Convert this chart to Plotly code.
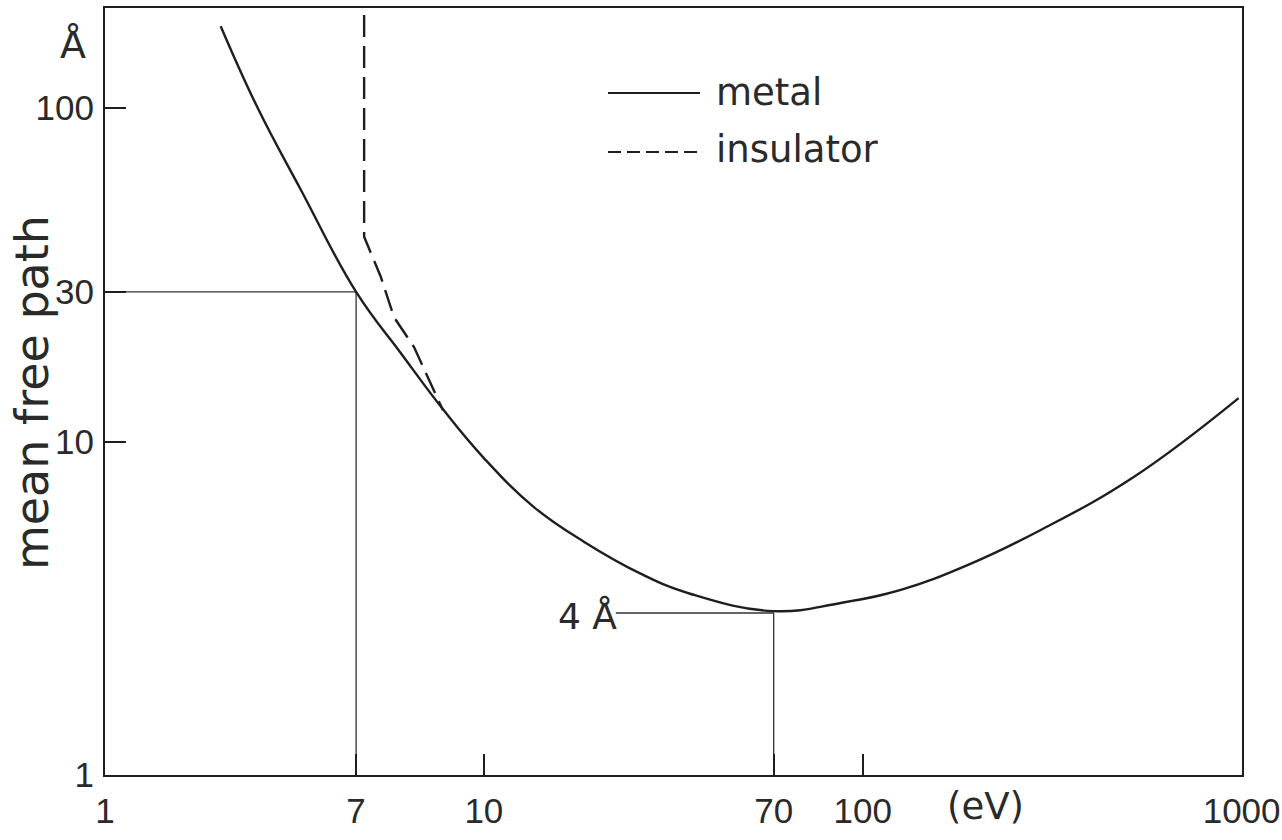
import plotly.graph_objects as go

# --- data (schematic log-log drawing) ---
metal_E = [2.02, 2.53, 3.29, 4.60, 6.04, 7.84, 10.0, 13.55, 18.4, 26.0, 35.2,
           58.2, 87.5, 126, 189, 295, 519, 982]
metal_L = [176, 100, 56.8, 28.1, 18.4, 12.4, 8.92, 6.36, 5.00, 4.01, 3.49,
           3.10, 3.28, 3.59, 4.26, 5.43, 7.83, 13.5]

insul_E = [4.83, 4.83, 5.35, 5.79, 6.54, 7.80]
insul_L = [190, 41.1, 31.1, 23.6, 19.2, 12.4]

ref30_E = [1, 4.60, 4.60]
ref30_L = [28.1, 28.1, 1]
ref4_E = [22.3, 58.2, 58.2]
ref4_L = [3.06, 3.06, 1]

x_tickvals = [1, 4.60, 10, 58.2, 100, 1000]
x_ticktext = ["1", "7", "10", "70", "100", "1000"]
y_tickvals = [1, 10, 28.1, 100]
y_ticktext = ["1", "10", "30", "100"]

INK = "#1e1e1e"
TXT = "#2a2a2a"
TICKFONT = dict(family="Liberation Sans, sans-serif", size=35, color=TXT)
TEXTFONT = dict(family="DejaVu Sans, sans-serif", size=37, color=TXT)

fig = go.Figure()
fig.add_trace(go.Scatter(x=ref30_E, y=ref30_L, mode="lines",
                         line=dict(color="#333", width=1.3), showlegend=False, hoverinfo="skip"))
fig.add_trace(go.Scatter(x=ref4_E, y=ref4_L, mode="lines",
                         line=dict(color="#333", width=1.3), showlegend=False, hoverinfo="skip"))
fig.add_trace(go.Scatter(x=insul_E, y=insul_L, mode="lines", name="insulator",
                         line=dict(color=INK, width=2.4, dash="22px,9px"),
                         showlegend=False))
fig.add_trace(go.Scatter(x=metal_E, y=metal_L, mode="lines", name="metal",
                         line=dict(color=INK, width=2.4, shape="spline", smoothing=1.2),
                         showlegend=False))

# hand-drawn style legend
fig.add_shape(type="line", xref="paper", yref="paper",
              x0=(608 - 105) / 1137, x1=(700 - 105) / 1137,
              y0=(775 - 93) / 767, y1=(775 - 93) / 767,
              line=dict(color=INK, width=2.2))
fig.add_shape(type="line", xref="paper", yref="paper",
              x0=(608 - 105) / 1137, x1=(703 - 105) / 1137,
              y0=(775 - 152) / 767, y1=(775 - 152) / 767,
              line=dict(color=INK, width=2.2, dash="13px,6px"))
fig.add_annotation(text="metal", xref="paper", yref="paper",
                   x=(714 - 105) / 1137, y=(775 - 93) / 767, xanchor="left", yanchor="middle",
                   showarrow=False, font=TEXTFONT)
fig.add_annotation(text="insulator", xref="paper", yref="paper",
                   x=(714 - 105) / 1137, y=(775 - 150) / 767, xanchor="left", yanchor="middle",
                   showarrow=False, font=TEXTFONT)

# axis annotations
fig.add_annotation(text="mean free path", xref="paper", yref="paper",
                   x=(32 - 105) / 1137, y=(775 - 393) / 767, textangle=-90,
                   xanchor="center", yanchor="middle", showarrow=False,
                   font=dict(family="DejaVu Sans, sans-serif", size=46, color=TXT))
fig.add_annotation(text="Å", xref="paper", yref="paper",
                   x=(73 - 105) / 1137, y=(775 - 45) / 767,
                   xanchor="center", yanchor="middle", showarrow=False,
                   font=dict(family="DejaVu Sans, sans-serif", size=38, color=TXT))
fig.add_annotation(text="(eV)", xref="paper", yref="paper",
                   x=(985 - 105) / 1137, y=(775 - 806) / 767,
                   xanchor="center", yanchor="middle", showarrow=False,
                   font=dict(family="DejaVu Sans, sans-serif", size=37, color=TXT))
fig.add_annotation(text="4 Å", x=1.3483, y=0.4858, xref="x", yref="y",
                   xanchor="right", yanchor="middle", yshift=-3, xshift=3, showarrow=False,
                   font=dict(family="DejaVu Sans, sans-serif", size=36, color=TXT))

fig.update_xaxes(type="log", range=[0, 3.001], tickvals=x_tickvals, ticktext=x_ticktext,
                 ticks="inside", ticklen=21, tickwidth=2, tickcolor=INK,
                 showline=True, linewidth=2.2, linecolor=INK, mirror=True,
                 showgrid=False, zeroline=False, tickfont=TICKFONT, ticklabelstandoff=4,
                 ticklabeloverflow="allow", automargin=False)
fig.update_yaxes(type="log", range=[0, 2.3], tickvals=y_tickvals, ticktext=y_ticktext,
                 ticks="inside", ticklen=21, tickwidth=2, tickcolor=INK,
                 showline=True, linewidth=2.2, linecolor=INK, mirror=True,
                 showgrid=False, zeroline=False, tickfont=TICKFONT, ticklabelstandoff=2,
                 ticklabeloverflow="allow", automargin=False)

fig.update_layout(width=1282, height=840, autosize=False,
                  margin=dict(l=105, r=40, t=8, b=65, autoexpand=False),
                  paper_bgcolor="white", plot_bgcolor="white",
                  showlegend=False)

fig.write_html("out.html")
